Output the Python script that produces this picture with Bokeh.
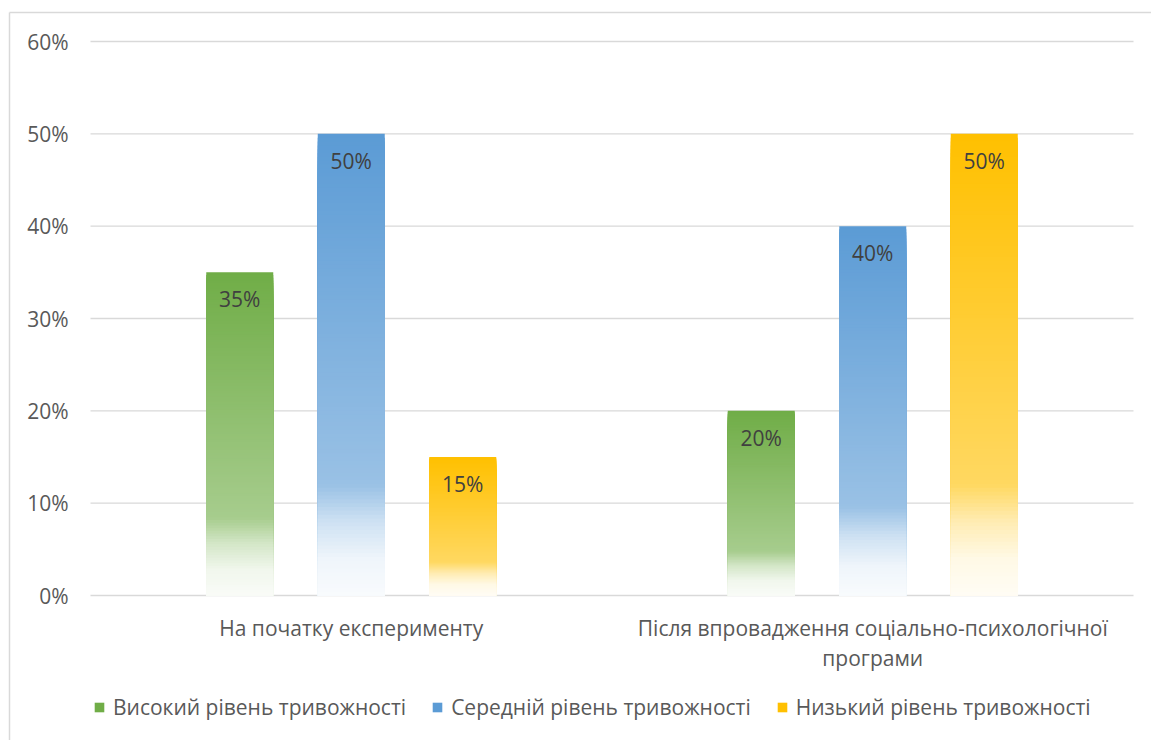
import numpy as np
from bokeh.plotting import figure
from bokeh.models import ColumnDataSource, Range1d, Legend, LegendItem
from bokeh.core.properties import value
from bokeh.embed import file_html
from bokeh.resources import INLINE

# ---------------- data ----------------
categories = ["На початку експерименту",
              "Після впровадження соціально-психологічної\nпрограми"]
series_names = ["Високий рівень тривожності",
                "Середній рівень тривожності",
                "Низький рівень тривожності"]
high_level = [0.35, 0.20]
medium_level = [0.50, 0.40]
low_level = [0.15, 0.50]
y_ticks = [0.0, 0.1, 0.2, 0.3, 0.4, 0.5, 0.6]
y_tick_labels = ["0%", "10%", "20%", "30%", "40%", "50%", "60%"]

# ---------------- style / layout ----------------
series_values = [high_level, medium_level, low_level]
colors = ["#70AD47", "#5B9BD5", "#FFC000"]
W, H = 1151, 740
PX_X, X0 = 521.5, 90.0       # px per category unit, px of x=0
PX_Y, Y0 = 923.33, 595.0     # px per value unit, px of y=0
FONT = "Open Sans"
TEXT_GREY = "#595959"

x_range = Range1d(-X0 / PX_X, (W - X0) / PX_X)
y_range = Range1d(-(H - Y0) / PX_Y, Y0 / PX_Y)

p = figure(width=W, height=H, x_range=x_range, y_range=y_range,
           output_backend="svg", toolbar_location=None,
           x_axis_location=None, y_axis_location=None,
           min_border=0, outline_line_color=None,
           background_fill_color="white", border_fill_color="white")
p.grid.visible = False

# chart-area border (left and top visible)
bx = (9 - X0) / PX_X
by = (Y0 - 12) / PX_Y
p.segment(x0=[bx, bx], y0=[by, by], x1=[bx, x_range.end], y1=[y_range.start, by],
          line_color="#d9d9d9", line_width=1.5)

# gridlines
n_cat = len(categories)
p.segment(x0=[0] * len(y_ticks), x1=[n_cat] * len(y_ticks), y0=y_ticks, y1=y_ticks,
          line_color="#d9d9d9", line_width=1.3)

# y tick labels
p.text(x=[-22 / PX_X] * len(y_ticks), y=y_ticks, text=y_tick_labels,
       text_align="right", text_baseline="middle",
       text_font=value(FONT), text_font_size="21px", text_color=TEXT_GREY)

# gradient bars
cat_x = np.arange(n_cat) + 0.5
offsets = [-111.5 / PX_X, 0.0, 111.5 / PX_X]
bar_w = 67 / PX_X
N = 120
stops_t = [0.0, 0.76, 0.84, 0.92, 1.0]
stops_a = [1.0, 0.62, 0.30, 0.10, 0.04]


def blend(hexcol, a):
    r, g, b = int(hexcol[1:3], 16), int(hexcol[3:5], 16), int(hexcol[5:7], 16)
    return "#%02x%02x%02x" % tuple(int(round(255 - a * (255 - c))) for c in (r, g, b))


renderers = []
for s, vals in enumerate(series_values):
    d = dict(left=[], right=[], top=[], bottom=[], color=[])
    for c, v in enumerate(vals):
        xc = cat_x[c] + offsets[s]
        for k in range(N):
            t = (k + 0.5) / N
            a = float(np.interp(t, stops_t, stops_a))
            d["left"].append(xc - bar_w / 2)
            d["right"].append(xc + bar_w / 2)
            d["top"].append(v * (1 - k / N))
            d["bottom"].append(0.0)
            d["color"].append(blend(colors[s], a))
    r = p.quad(left="left", right="right", top="top", bottom="bottom",
               fill_color="color", line_color=None, source=ColumnDataSource(d))
    renderers.append(r)

    # data labels
    p.text(x=list(cat_x + offsets[s]), y=vals,
           text=["%d%%" % round(v * 100) for v in vals],
           text_align="center", text_baseline="middle", y_offset=27,
           text_font=value(FONT), text_font_size="21px", text_color="#404040")

# category labels
p.text(x=list(cat_x), y=[0.0] * n_cat, text=categories,
       text_align="center", text_baseline="top", y_offset=18, text_line_height=1.08,
       text_font=value(FONT), text_font_size="21px", text_color=TEXT_GREY)

# legend
legend = Legend(items=[LegendItem(label=series_names[i], renderers=[renderers[i]], index=0)
                       for i in range(3)],
                orientation="horizontal", location=(93, 19),
                glyph_width=12, glyph_height=12, label_standoff=8, spacing=25,
                padding=0, margin=0, border_line_color=None, background_fill_alpha=0,
                label_text_font=FONT, label_text_font_size="21px",
                label_text_color=TEXT_GREY)
p.add_layout(legend)

open("out.html", "w").write(file_html(p, INLINE))
